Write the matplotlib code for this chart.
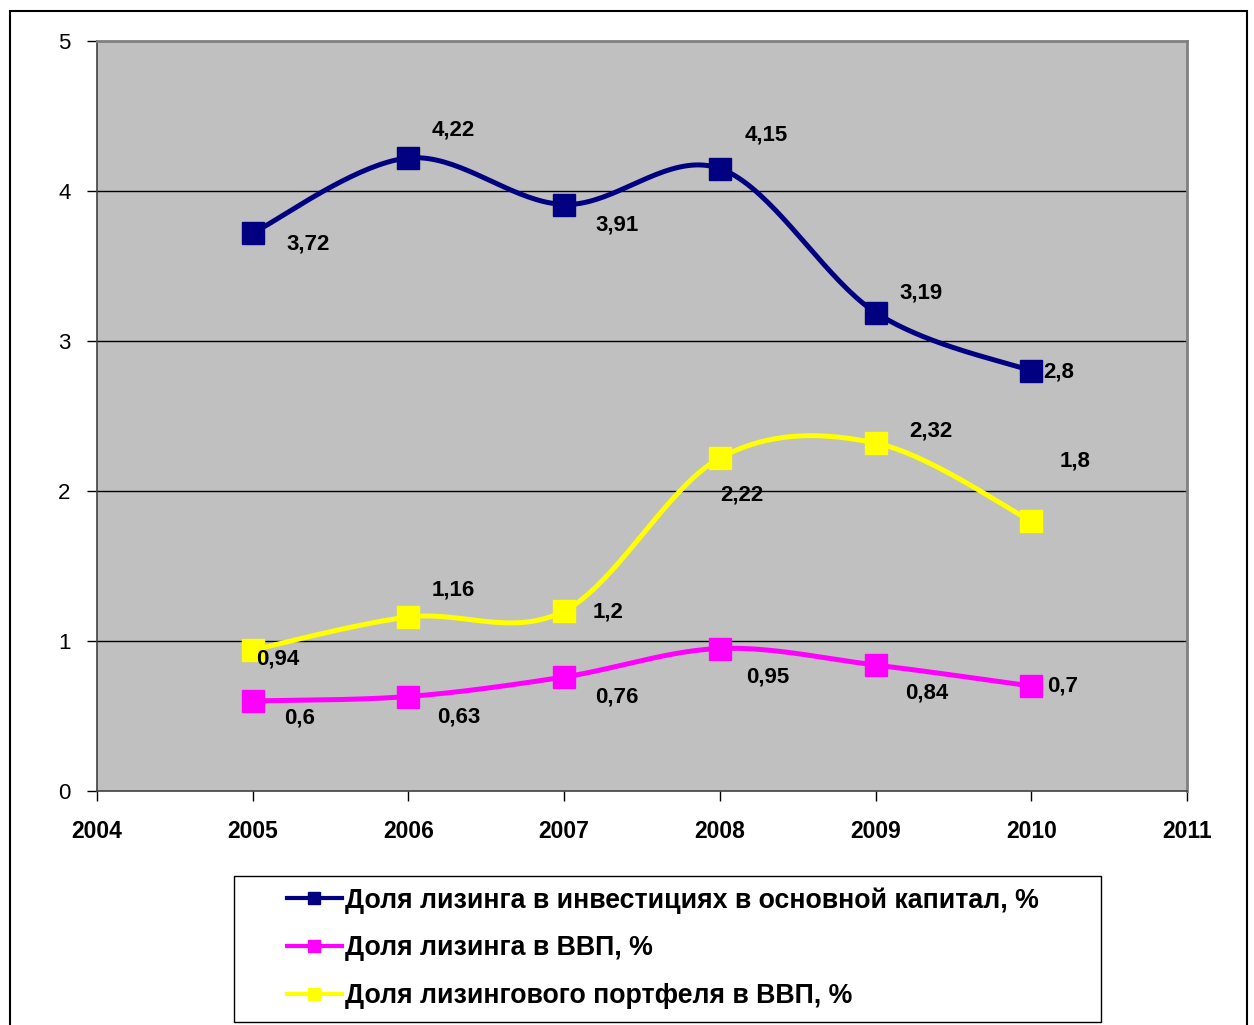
import numpy as np
import matplotlib
matplotlib.use("Agg")
import matplotlib.pyplot as plt
from matplotlib.lines import Line2D
from matplotlib.patches import Rectangle

years = [2005, 2006, 2007, 2008, 2009, 2010]
invest_share = [3.72, 4.22, 3.91, 4.15, 3.19, 2.8]
gdp_share = [0.6, 0.63, 0.76, 0.95, 0.84, 0.7]
portfolio_share = [0.94, 1.16, 1.2, 2.22, 2.32, 1.8]
series_names = [
    "Доля лизинга в инвестициях в основной капитал, %",
    "Доля лизинга в ВВП, %",
    "Доля лизингового портфеля в ВВП, %",
]
x_ticks = [2004, 2005, 2006, 2007, 2008, 2009, 2010, 2011]
y_ticks = [0, 1, 2, 3, 4, 5]

colors = ["#000080", "#FF00FF", "#FFFF00"]
# label offsets in pixels (dx, dy) relative to each marker
offsets = [
    [(55, -11), (45, 28), (53, -20), (46, 33), (45, 20), (27, -1)],
    [(47, -17), (50, -20), (53, -20), (48, -28), (51, -28), (31, 0)],
    [(25, -9), (45, 27), (44, -1), (22, -37), (55, 12), (44, 60)],
]


def fmt(v):
    return ("%g" % v).replace(".", ",")


def smooth(xs, ys, n=40):
    # Excel-like smoothed line: Catmull-Rom cubic Bezier segments
    xs = np.asarray(xs, float)
    ys = np.asarray(ys, float)
    px = np.concatenate([[xs[0]], xs, [xs[-1]]])
    py = np.concatenate([[ys[0]], ys, [ys[-1]]])
    outx, outy = [], []
    t = np.linspace(0, 1, n)
    for i in range(1, len(px) - 2):
        p0 = np.array([px[i], py[i]])
        p3 = np.array([px[i + 1], py[i + 1]])
        c1 = p0 + (np.array([px[i + 1], py[i + 1]]) - np.array([px[i - 1], py[i - 1]])) / 6
        c2 = p3 - (np.array([px[i + 2], py[i + 2]]) - np.array([px[i], py[i]])) / 6
        b = ((1 - t) ** 3)[:, None] * p0 + (3 * (1 - t) ** 2 * t)[:, None] * c1 \
            + (3 * (1 - t) * t ** 2)[:, None] * c2 + (t ** 3)[:, None] * p3
        outx.extend(b[:, 0])
        outy.extend(b[:, 1])
    return np.array(outx), np.array(outy)


plt.rcParams["font.family"] = ["Liberation Sans", "DejaVu Sans"]

W, H = 1254, 1025
fig = plt.figure(figsize=(W / 100, H / 100), dpi=100)
fig.patch.set_facecolor("white")

# outer chart frame
fig.add_artist(Rectangle((10 / W, -0.01), 1237 / W, (H - 11) / H + 0.01,
                         transform=fig.transFigure, fill=False,
                         edgecolor="black", linewidth=1.5))

ax = fig.add_axes([97 / W, 1 - 791 / H, (1187 - 97) / W, (791 - 41) / H])
ax.set_facecolor("#C0C0C0")
ax.set_xlim(2004, 2011)
ax.set_ylim(0, 5)
ax.set_xticks(x_ticks)
ax.set_yticks(y_ticks)
ax.set_xticklabels([str(v) for v in x_ticks], fontsize=16.5, fontweight="bold")
ax.set_yticklabels([str(v) for v in y_ticks], fontsize=16)
ax.tick_params(axis="x", direction="out", length=7, width=1, pad=14, colors="black")
ax.tick_params(axis="y", direction="out", length=7, width=1, pad=12, colors="black")
for s in ["top", "right"]:
    ax.spines[s].set_color("#808080")
    ax.spines[s].set_linewidth(2)
for s in ["left", "bottom"]:
    ax.spines[s].set_color("#404040")
    ax.spines[s].set_linewidth(1.2)
for yv in y_ticks[1:-1]:
    ax.axhline(yv, color="black", linewidth=1, zorder=1)

all_series = [invest_share, gdp_share, portfolio_share]
handles = []
for vals, col, offs, name in zip(all_series, colors, offsets, series_names):
    sx, sy = smooth(years, vals)
    ax.plot(sx, sy, color=col, linewidth=3.6, solid_capstyle="round", zorder=3)
    ax.plot(years, vals, linestyle="none", marker="s", markersize=16,
            markerfacecolor=col, markeredgecolor=col, zorder=4)
    for x, v, (dx, dy) in zip(years, vals, offs):
        ax.annotate(fmt(v), (x, v), xytext=(dx, dy), textcoords="offset pixels",
                    ha="center", va="center", fontsize=16, fontweight="bold",
                    color="black", zorder=5)
    handles.append(Line2D([0], [0], color=col, linewidth=3, marker="s",
                          markersize=9, markerfacecolor=col, markeredgecolor=col))

# legend box
fig.add_artist(Rectangle((234 / W, 1 - 1022 / H), (1101 - 234) / W, (1022 - 876) / H,
                         transform=fig.transFigure, facecolor="white",
                         edgecolor="black", linewidth=1.0))
leg = fig.legend(handles, series_names, loc="upper left",
                 bbox_to_anchor=(287 / W, 1 - 887 / H), bbox_transform=fig.transFigure,
                 frameon=False, prop={"size": 19.3, "weight": "bold"},
                 handlelength=2.05, handletextpad=0.1, labelspacing=0.82,
                 borderpad=0, borderaxespad=0)

fig.savefig("out.png", dpi=100)
